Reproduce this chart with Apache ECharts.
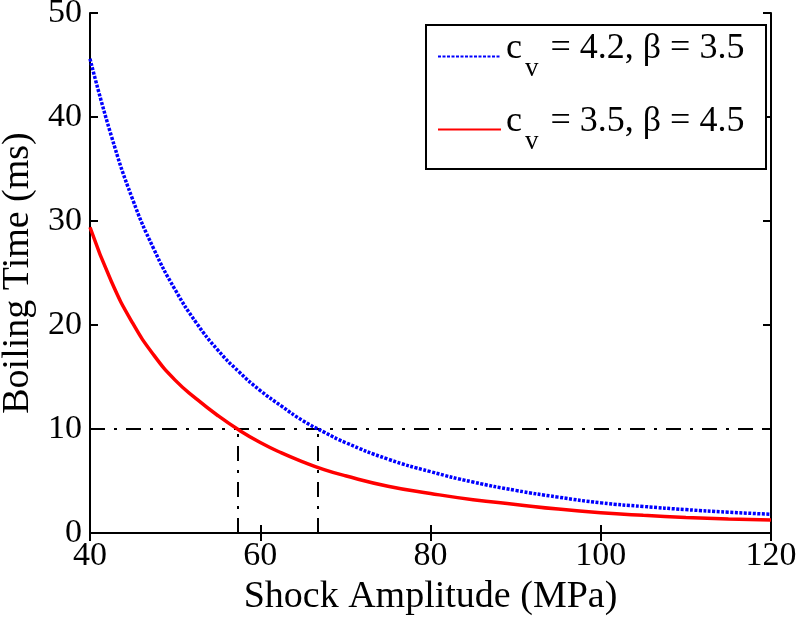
<!DOCTYPE html>
<html>
<head>
<meta charset="utf-8">
<script src="https://cdn.jsdelivr.net/npm/echarts@6/dist/echarts.min.js"></script>
<style>html,body{margin:0;padding:0;background:#fff}#c{width:800px;height:619px}</style>
</head>
<body>
<div id="c"></div>
<script>
var amplitude = [40, 42.5, 45, 47.5, 50, 52.5, 55, 57.5, 60, 62.5, 65, 67.5, 70, 75, 80, 85, 90, 95, 100, 105, 110, 115, 120];
var timeBlue  = [45.6, 38.2, 32.1, 27.3, 23.4, 20.2, 17.6, 15.5, 13.7, 12.2, 10.8, 9.7, 8.7, 7.1, 5.9, 4.9, 4.1, 3.45, 2.9, 2.55, 2.25, 2.0, 1.8];
var timeRed   = [29.4, 24.2, 20.2, 17.1, 14.7, 12.9, 11.3, 9.9, 8.7, 7.7, 6.85, 6.1, 5.5, 4.5, 3.8, 3.2, 2.75, 2.3, 1.95, 1.7, 1.5, 1.35, 1.25];
var threshold = 10;
var crossings = [57.3, 66.8];
var xTicks = [40, 60, 80, 100, 120];
var yTicks = [0, 10, 20, 30, 40, 50];

function pairs(xs, ys) { return xs.map(function (x, i) { return [x, ys[i]]; }); }

var font = 'Liberation Serif';
var chart = echarts.init(document.getElementById('c'));
var rich = {
  c: { fontFamily: font, fontSize: 36, color: '#000', verticalAlign: 'top' },
  s: { fontFamily: font, fontSize: 27, color: '#000', verticalAlign: 'top', padding: [24, 3, 0, 3] },
  t: { fontFamily: font, fontSize: 36, color: '#000', verticalAlign: 'top' }
};
var names = ['{c|c}{s|v}{t| = 4.2, β = 3.5}', '{c|c}{s|v}{t| = 3.5, β = 4.5}'];
var legendNames = ['cv = 4.2, β = 3.5', 'cv = 3.5, β = 4.5'];
var labelMap = {};
labelMap[legendNames[0]] = names[0];
labelMap[legendNames[1]] = names[1];

var axisLine = { show: true, lineStyle: { color: '#000', width: 2 } };
var tickStyle = { show: true, inside: true, length: 8, lineStyle: { color: '#000', width: 2 } };

chart.setOption({
  animation: false,
  backgroundColor: '#fff',
  grid: { left: 90, top: 13, right: 29, bottom: 86, show: false, containLabel: false, outerBoundsMode: 'none' },
  xAxis: [
    { type: 'value', min: xTicks[0], max: xTicks[xTicks.length - 1], interval: 20, position: 'bottom',
      axisLine: axisLine, axisTick: tickStyle, splitLine: { show: false },
      axisLabel: { fontFamily: font, fontSize: 34, color: '#000', margin: 6 },
      name: 'Shock Amplitude (MPa)', nameLocation: 'middle', nameGap: 36,
      nameTextStyle: { fontFamily: font, fontSize: 38, color: '#000' } },
    { type: 'value', min: xTicks[0], max: xTicks[xTicks.length - 1], interval: 20, position: 'top',
      axisLine: axisLine, axisTick: tickStyle, splitLine: { show: false }, axisLabel: { show: false } }
  ],
  yAxis: [
    { type: 'value', min: yTicks[0], max: yTicks[yTicks.length - 1], interval: 10, position: 'left',
      axisLine: axisLine, axisTick: tickStyle, splitLine: { show: false },
      axisLabel: { fontFamily: font, fontSize: 34, color: '#000', margin: 8 },
      name: 'Boiling Time (ms)', nameLocation: 'middle', nameGap: 52, nameRotate: 90,
      nameTextStyle: { fontFamily: font, fontSize: 38, color: '#000' } },
    { type: 'value', min: yTicks[0], max: yTicks[yTicks.length - 1], interval: 10, position: 'right',
      axisLine: axisLine, axisTick: tickStyle, splitLine: { show: false }, axisLabel: { show: false } }
  ],
  graphic: [
    { type: 'rect', left: 425, top: 24, shape: { width: 340, height: 144 }, z: 90,
      style: { fill: '#fff', stroke: '#000', lineWidth: 2 } }
  ],
  legend: {
    orient: 'vertical', left: 437, top: 31, padding: 0, itemWidth: 63, itemHeight: 14, itemGap: 22, z: 100,
    data: legendNames,
    itemStyle: { opacity: 0 },
    formatter: function (n) { return labelMap[n]; },
    textStyle: { rich: rich, padding: [0, 0, 0, 0] }
  },
  series: [
    { name: legendNames[0], type: 'line', data: pairs(amplitude, timeBlue), symbol: 'none', smooth: true,
      lineStyle: { color: '#0000ff', width: 3.5, type: [3, 1.5] }, itemStyle: { color: '#0000ff' }, z: 5 },
    { name: legendNames[1], type: 'line', data: pairs(amplitude, timeRed), symbol: 'none', smooth: true,
      lineStyle: { color: '#ff0000', width: 3.5, type: 'solid' }, itemStyle: { color: '#ff0000' }, z: 5,
      markLine: {
        silent: true, symbol: 'none', label: { show: false },
        lineStyle: { color: '#000', width: 2, type: [15, 9, 3, 9] },
        data: [
          { yAxis: threshold },
          [{ coord: [crossings[0], 0] }, { coord: [crossings[0], threshold] }],
          [{ coord: [crossings[1], 0] }, { coord: [crossings[1], threshold] }]
        ]
      } }
  ]
});
</script>
</body>
</html>
